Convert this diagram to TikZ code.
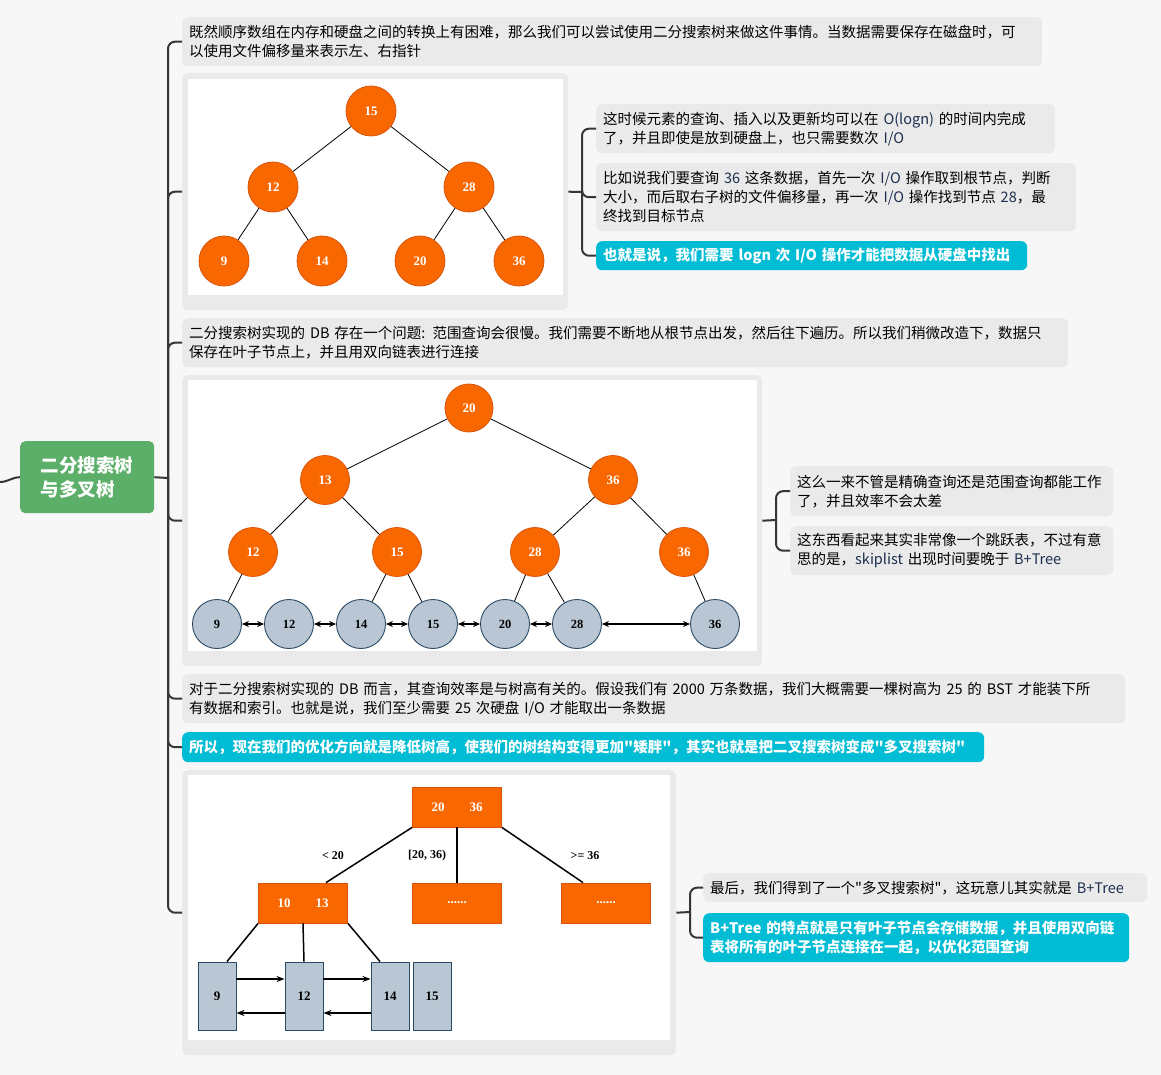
\documentclass[tikz,border=0pt]{standalone}
\usepackage{fontspec}
\setmainfont{Noto Sans CJK SC}[Ligatures=TeXOff]
\newfontfamily\treefont{Liberation Serif}
\usepackage{xcolor}
\usetikzlibrary{arrows.meta}

\definecolor{bgc}{HTML}{F7F7F7}
\definecolor{topicgray}{HTML}{EAEAEA}
\definecolor{hlcyan}{HTML}{00BCD4}
\definecolor{rootgreen}{HTML}{5CAF68}
\definecolor{linec}{HTML}{363636}
\definecolor{nodeorange}{HTML}{F96800}
\definecolor{orangeedge}{HTML}{D9530A}
\definecolor{leafblue}{HTML}{B8C7D3}
\definecolor{leafedge}{HTML}{2B4A66}
\definecolor{latinc}{HTML}{1C2F4F}
\newcommand{\numtx}[1]{\textcolor{latinc}{#1}}

\begin{document}
\begin{tikzpicture}[x=1pt, y=-1pt,
    topic/.style={fill=topicgray, rounded corners=6pt, anchor=north west, align=left, inner xsep=7pt, inner ysep=0pt, font=\fontsize{14.5}{19}\selectfont},
    hl/.style={topic, fill=hlcyan, text=white, font=\fontsize{14.5}{19}\selectfont\bfseries},
    frame/.style={fill=topicgray, rounded corners=6pt, anchor=north west, inner sep=0pt},
    canvas/.style={fill=white, anchor=north west, inner sep=0pt},
    onode/.style={circle, fill=nodeorange, draw=orangeedge, line width=0.8pt, minimum size=50pt, inner sep=0pt, text=white, font=\treefont\bfseries\fontsize{13}{15}\selectfont},
    leaf/.style={circle, fill=leafblue, draw=leafedge, line width=0.9pt, minimum size=49pt, inner sep=0pt, font=\treefont\bfseries\fontsize{12.5}{14}\selectfont},
    bnode/.style={rectangle, fill=nodeorange, draw=orangeedge, line width=0.8pt, minimum width=89pt, minimum height=40pt, inner sep=0pt, text=white, font=\treefont\bfseries\fontsize{13}{15}\selectfont},
    bleaf/.style={rectangle, fill=leafblue, draw=leafedge, line width=0.9pt, minimum width=38pt, minimum height=68pt, inner sep=0pt, font=\treefont\bfseries\fontsize{13}{15}\selectfont},
    blabel/.style={font=\treefont\bfseries\fontsize{12}{14}\selectfont},
    branch/.style={draw=linec, line width=2pt, rounded corners=7pt},
    edge/.style={draw=black, line width=0.8pt},
    link/.style={<->, >={Stealth[length=7pt,width=6pt]}, line width=1.2pt},
    ptr/.style={->, >={Stealth[length=8pt,width=6pt]}, line width=1.8pt}
]
\useasboundingbox (0,0) rectangle (1161,1075);
\fill[bgc] (0,0) rectangle (1161,1075);

\node[fill=rootgreen, rounded corners=5pt, minimum width=134pt, minimum height=72pt, align=left, text=white, font=\fontsize{18.5}{24}\selectfont\bfseries, anchor=north west] (root) at (20,441) {二分搜索树\\与多叉树};
\coordinate (offleft) at (0,482);
\coordinate (hub) at (168,478);

\node[topic, text width=846pt, minimum height=49pt] (t1) at (182,17) {既然顺序数组在内存和硬盘之间的转换上有困难，那么我们可以尝试使用二分搜索树来做这件事情。当数据需要保存在磁盘时，可\\以使用文件偏移量来表示左、右指针};
\node[frame, minimum width=386pt, minimum height=237pt] (img1) at (182,73) {};
\node[canvas, minimum width=375pt, minimum height=216pt] (can1) at (188,79) {};
\node[topic, text width=872pt, minimum height=49pt] (t2) at (182,318) {二分搜索树实现的 DB 存在一个问题: 范围查询会很慢。我们需要不断地从根节点出发，然后往下遍历。所以我们稍微改造下，数据只\\保存在叶子节点上，并且用双向链表进行连接};
\node[frame, minimum width=580pt, minimum height=291pt] (img2) at (182,375) {};
\node[canvas, minimum width=569pt, minimum height=271pt] (can2) at (188,380) {};
\node[topic, text width=929pt, minimum height=49pt] (t3) at (182,674) {对于二分搜索树实现的 DB 而言，其查询效率是与树高有关的。假设我们有 2000 万条数据，我们大概需要一棵树高为 25 的 BST 才能装下所\\有数据和索引。也就是说，我们至少需要 25 次硬盘 I/O 才能取出一条数据};
\node[hl, text width=788pt, minimum height=30pt] (hl1) at (182,732) {所以，现在我们的优化方向就是降低树高，使我们的树结构变得更加"矮胖"，其实也就是把二叉搜索树变成"多叉搜索树"};
\node[frame, minimum width=494pt, minimum height=285pt] (img3) at (182,770) {};
\node[canvas, minimum width=482pt, minimum height=265pt] (can3) at (188,775) {};

\draw[branch] (offleft) to[out=0, in=180] (root.west);
\draw[branch] (root.east) -- (hub);
\foreach \c in {t1,img1,t2,img2,t3,hl1,img3}
    \draw[branch] (hub) |- (\c.west);

% notes on the right
\node[topic, text width=445pt, minimum height=49pt] (n1a) at (596,104) {这时候元素的查询、插入以及更新均可以在 \numtx{O(logn)} 的时间内完成\\了，并且即使是放到硬盘上，也只需要数次 \numtx{I/O}};
\node[topic, text width=466pt, minimum height=68pt] (n1b) at (596,163) {比如说我们要查询 \numtx{36} 这条数据，首先一次 \numtx{I/O} 操作取到根节点，判断\\大小，而后取右子树的文件偏移量，再一次 \numtx{I/O} 操作找到节点 \numtx{28}，最\\终找到目标节点};
\node[hl, text width=417pt, minimum height=29pt] (n1c) at (596,241) {也就是说，我们需要 logn 次 I/O 操作才能把数据从硬盘中找出};
\coordinate (hub1) at (582,192);
\draw[branch] (img1.east) -- (hub1);
\foreach \c in {n1a,n1b,n1c}
    \draw[branch] (hub1) |- (\c.west);

\node[topic, text width=309pt, minimum height=50pt] (n2a) at (790,466) {这么一来不管是精确查询还是范围查询都能工作\\了，并且效率不会太差};
\node[topic, text width=309pt, minimum height=49pt] (n2b) at (790,526) {这东西看起来其实非常像一个跳跃表，不过有意\\思的是，\numtx{skiplist} 出现时间要晚于 \numtx{B+Tree}};
\coordinate (hub2) at (776,520);
\draw[branch] (img2.east) -- (hub2);
\foreach \c in {n2a,n2b}
    \draw[branch] (hub2) |- (\c.west);

\node[topic, text width=430pt, minimum height=29pt] (n3a) at (703,873) {最后，我们得到了一个"多叉搜索树"，这玩意儿其实就是 \numtx{B+Tree}};
\node[hl, text width=412pt, minimum height=49pt] (n3b) at (703,913) {B+Tree 的特点就是只有叶子节点会存储数据，并且使用双向链\\表将所有的叶子节点连接在一起，以优化范围查询};
\coordinate (hub3) at (690,912);
\draw[branch] (img3.east) -- (hub3);
\foreach \c in {n3a,n3b}
    \draw[branch] (hub3) |- (\c.west);

% binary search tree
\node[onode] (a15) at (371,111) {15};
\node[onode] (a12) at (273,187) {12};
\node[onode] (a28) at (469,187) {28};
\node[onode] (a9) at (224,261) {9};
\node[onode] (a14) at (322,261) {14};
\node[onode] (a20) at (420,261) {20};
\node[onode] (a36) at (519,261) {36};
\draw[edge] (a15) -- (a12);
\draw[edge] (a15) -- (a28);
\draw[edge] (a12) -- (a9);
\draw[edge] (a12) -- (a14);
\draw[edge] (a28) -- (a20);
\draw[edge] (a28) -- (a36);

% tree with linked leaves
\node[onode, minimum size=48pt] (b20) at (469,408) {20};
\node[onode, minimum size=49pt] (b13) at (325,480) {13};
\node[onode, minimum size=49pt] (b36) at (613,480) {36};
\node[onode, minimum size=49pt] (b12) at (253,552) {12};
\node[onode, minimum size=49pt] (b15) at (397,552) {15};
\node[onode, minimum size=49pt] (b28) at (535,552) {28};
\node[onode, minimum size=49pt] (b36r) at (684,552) {36};
\node[leaf] (k9) at (217,624) {9};
\node[leaf] (k12) at (289,624) {12};
\node[leaf] (k14) at (361,624) {14};
\node[leaf] (k15) at (433,624) {15};
\node[leaf] (k20) at (505,624) {20};
\node[leaf] (k28) at (577,624) {28};
\node[leaf] (k36) at (715,624) {36};
\draw[edge] (b20) -- (b13);
\draw[edge] (b20) -- (b36);
\draw[edge] (b13) -- (b12);
\draw[edge] (b13) -- (b15);
\draw[edge] (b36) -- (b28);
\draw[edge] (b36) -- (b36r);
\draw[edge] (b12) -- (k9);
\draw[edge] (b15) -- (k14);
\draw[edge] (b15) -- (k15);
\draw[edge] (b28) -- (k20);
\draw[edge] (b28) -- (k28);
\draw[edge] (b36r) -- (k36);
\draw[link] (k9) -- (k12);
\draw[link] (k12) -- (k14);
\draw[link] (k14) -- (k15);
\draw[link] (k15) -- (k20);
\draw[link] (k20) -- (k28);
\draw[link] (k28) -- (k36);

% multiway tree
\node[bnode] (m1) at (457,807) {20\hspace{25pt}36};
\node[bnode] (m2) at (303,903) {10\hspace{25pt}13};
\node[bnode] (m3) at (457,903) {......};
\node[bnode] (m4) at (606,903) {......};
\node[blabel] (lb1) at (333,856) {< 20};
\node[blabel] (lb2) at (427,856) {[20, 36)};
\node[blabel] (lb3) at (585,856) {>= 36};
\node[bleaf] (p9) at (217,996) {9};
\node[bleaf] (p12) at (304,996) {12};
\node[bleaf] (p14) at (390,996) {14};
\node[bleaf] (p15) at (432,996) {15};
\draw[edge, line width=1.5pt] (m1.south west) -- ([xshift=23pt]m2.north);
\draw[edge, line width=1.5pt] (m1.south) -- (m3.north);
\draw[edge, line width=1.5pt] (m1.south east) -- ([xshift=-23pt]m4.north);
\draw[edge, line width=1.5pt] (m2.south west) -- ([xshift=10pt]p9.north);
\draw[edge, line width=1.5pt] (m2.south) -- (p12.north);
\draw[edge, line width=1.5pt] (m2.south east) -- ([xshift=-10pt]p14.north);
\draw[ptr] ([yshift=17pt]p9.east) -- ([yshift=17pt]p12.west);
\draw[ptr] ([yshift=17pt]p12.east) -- ([yshift=17pt]p14.west);
\draw[ptr] ([yshift=-17pt]p12.west) -- ([yshift=-17pt]p9.east);
\draw[ptr] ([yshift=-17pt]p14.west) -- ([yshift=-17pt]p12.east);
\end{tikzpicture}
\end{document}
